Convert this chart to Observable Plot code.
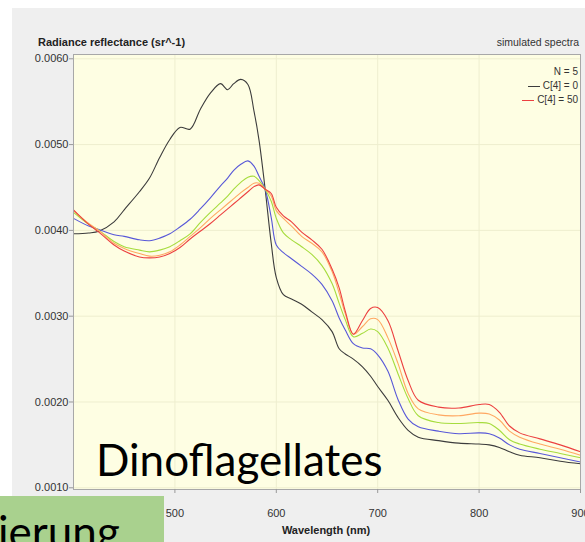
<!DOCTYPE html>
<html>
<head>
<meta charset="utf-8">
<script src="https://cdn.jsdelivr.net/npm/d3@7"></script>
<script src="https://cdn.jsdelivr.net/npm/@observablehq/plot@0.6"></script>
<style>
  html, body { margin: 0; padding: 0; background: #fff; }
  body { width: 585px; height: 542px; overflow: hidden; position: relative;
         font-family: "Liberation Sans", Arial, sans-serif; color: #222; }
  #panel { position: absolute; left: 12px; top: 8px; right: 0; bottom: 0; background: #efefef; }
  #chart { position: absolute; left: 0; top: 0; }
  #chart svg { display: block; background: transparent; }
  .title { position: absolute; left: 38px; top: 36px; font-size: 11px; font-weight: bold; white-space: nowrap; }
  .sub { position: absolute; right: 6px; top: 36px; font-size: 10.5px; white-space: nowrap; color: #333; }
  .xlabel { position: absolute; left: 326px; top: 524px; transform: translateX(-50%);
            font-size: 11px; font-weight: bold; white-space: nowrap; }
  .legend { position: absolute; right: 7px; top: 65px; font-size: 10px; line-height: 14px;
            text-align: right; color: #333; }
  .legend .sw { display: inline-block; width: 12px; height: 0; border-top: 1.2px solid; vertical-align: middle; margin-right: 3px; }
  .big { position: absolute; font-family: Lato, "Open Sans", sans-serif; font-size: 44px; line-height: 1; color: #000; white-space: nowrap; }
  #tag { position: absolute; left: 0; top: 496px; width: 164px; height: 46px; background: #a9d18e; overflow: hidden; }
</style>
</head>
<body>
<div id="panel"></div>
<div id="chart"></div>
<div class="title">Radiance reflectance (sr^-1)</div>
<div class="sub">simulated spectra</div>
<div class="legend" id="legend"></div>
<div class="xlabel">Wavelength (nm)</div>
<div class="big" style="left:96px; top:437px;">Dinoflagellates</div>
<div id="tag"><div class="big" style="left:-2px; top:13px;">ierung</div></div>
<script>
// Wavelength grid (nm) shared by all spectra
const wavelengths = [400, 415, 425, 440, 450, 465, 475, 485, 495, 505, 515, 525, 535, 545, 552, 558, 565, 572, 578, 583,
  589, 595, 600, 607, 615, 625, 635, 645, 655, 662, 668, 676, 685, 693, 700, 710, 720, 730, 740, 760,
  780, 800, 810, 820, 830, 840, 860, 880, 900];

// Simulated radiance reflectance, in 10^-3 sr^-1, for five concentrations C[4]
const seriesNames = ["C[4] = 0", "C[4] = 12.5", "C[4] = 25", "C[4] = 37.5", "C[4] = 50"];
const seriesColors = ["#3c3c3c", "#5858d8", "#a6dc3e", "#ffa862", "#ec4040"];

const conc0 = [3.96, 3.97, 3.99, 4.10, 4.24, 4.45, 4.61, 4.85, 5.06, 5.20, 5.18, 5.41, 5.60, 5.71, 5.64, 5.71, 5.76, 5.70, 5.39, 5.05,
  4.48, 3.85, 3.45, 3.25, 3.20, 3.14, 3.05, 2.96, 2.82, 2.62, 2.56, 2.50, 2.41, 2.30, 2.18, 2.02, 1.82, 1.67, 1.59, 1.55,
  1.52, 1.51, 1.50, 1.47, 1.42, 1.38, 1.35, 1.31, 1.28];
const conc12 = [4.14, 4.05, 4.01, 3.95, 3.93, 3.89, 3.88, 3.91, 3.96, 4.04, 4.13, 4.25, 4.38, 4.52, 4.61, 4.70, 4.77, 4.81, 4.75, 4.63,
  4.48, 4.15, 3.83, 3.74, 3.67, 3.58, 3.49, 3.37, 3.18, 2.98, 2.84, 2.68, 2.63, 2.62, 2.55, 2.36, 2.03, 1.80, 1.71, 1.66,
  1.63, 1.64, 1.63, 1.58, 1.50, 1.45, 1.40, 1.35, 1.30];
const conc25 = [4.21, 4.07, 4.00, 3.87, 3.81, 3.77, 3.75, 3.77, 3.81, 3.88, 3.96, 4.09, 4.21, 4.32, 4.40, 4.48, 4.56, 4.62, 4.63, 4.58,
  4.48, 4.34, 4.14, 3.97, 3.89, 3.81, 3.72, 3.59, 3.38, 3.15, 2.96, 2.76, 2.80, 2.85, 2.82, 2.63, 2.33, 2.04, 1.84, 1.76,
  1.75, 1.76, 1.75, 1.67, 1.56, 1.51, 1.45, 1.40, 1.35];
const conc37 = [4.23, 4.08, 4.00, 3.85, 3.79, 3.73, 3.70, 3.71, 3.75, 3.83, 3.93, 4.03, 4.14, 4.24, 4.31, 4.37, 4.44, 4.50, 4.55, 4.55,
  4.48, 4.40, 4.23, 4.14, 4.05, 3.93, 3.85, 3.75, 3.52, 3.27, 3.03, 2.79, 2.88, 2.97, 2.96, 2.75, 2.45, 2.10, 1.92, 1.85,
  1.84, 1.87, 1.86, 1.79, 1.66, 1.59, 1.51, 1.45, 1.38];
const conc50 = [4.24, 4.07, 3.98, 3.83, 3.76, 3.69, 3.68, 3.69, 3.73, 3.80, 3.90, 3.99, 4.08, 4.18, 4.25, 4.31, 4.38, 4.45, 4.51, 4.53,
  4.48, 4.43, 4.27, 4.17, 4.10, 3.98, 3.89, 3.78, 3.55, 3.33, 3.06, 2.79, 2.95, 3.09, 3.10, 2.95, 2.60, 2.25, 2.02, 1.94,
  1.93, 1.97, 1.97, 1.88, 1.72, 1.64, 1.57, 1.50, 1.42];

const xTicks = [500, 600, 700, 800, 900];
const yTicks = [0.001, 0.002, 0.003, 0.004, 0.005, 0.006];

// Legend entries shown in the top-right corner
const legendHeader = "N = 5";
const legendItems = [0, 4];

const seriesValues = [conc0, conc12, conc25, conc37, conc50];
const spectra = seriesNames.flatMap((name, i) =>
  wavelengths.map((wl, j) => ({wl, r: seriesValues[i][j] / 1000, name}))
);

const plot = Plot.plot({
  width: 585,
  height: 542,
  marginLeft: 73,
  marginRight: 5,
  marginTop: 54,
  marginBottom: 53,
  style: {fontFamily: "'Liberation Sans', Arial, sans-serif", fontSize: "11px", background: "transparent"},
  x: {domain: [400, 900]},
  y: {domain: [0.00098, 0.00605]},
  color: {domain: seriesNames, range: seriesColors},
  marks: [
    Plot.frame({fill: "#fefee3", stroke: null}),
    Plot.gridX(xTicks, {stroke: "#eeeecf", strokeOpacity: 1}),
    Plot.gridY(yTicks, {stroke: "#eeeecf", strokeOpacity: 1}),
    Plot.line(spectra, {x: "wl", y: "r", z: "name", stroke: "name", strokeWidth: 1.1, curve: "catmull-rom"}),
    Plot.frame({stroke: "#a8a8a8"}),
    Plot.axisX(xTicks, {tickSize: 4, tickPadding: 16, stroke: "#999", fill: "#333", label: null}),
    Plot.axisY(yTicks, {tickSize: 4, tickPadding: 1, stroke: "#999", fill: "#333", label: null, tickFormat: d3.format(".4f")})
  ]
});
document.getElementById("chart").append(plot);

const legend = document.getElementById("legend");
const head = document.createElement("div");
head.textContent = legendHeader;
legend.append(head);
for (const i of legendItems) {
  const row = document.createElement("div");
  const sw = document.createElement("span");
  sw.className = "sw";
  sw.style.borderColor = seriesColors[i];
  row.append(sw, document.createTextNode(seriesNames[i]));
  legend.append(row);
}
</script>
</body>
</html>
